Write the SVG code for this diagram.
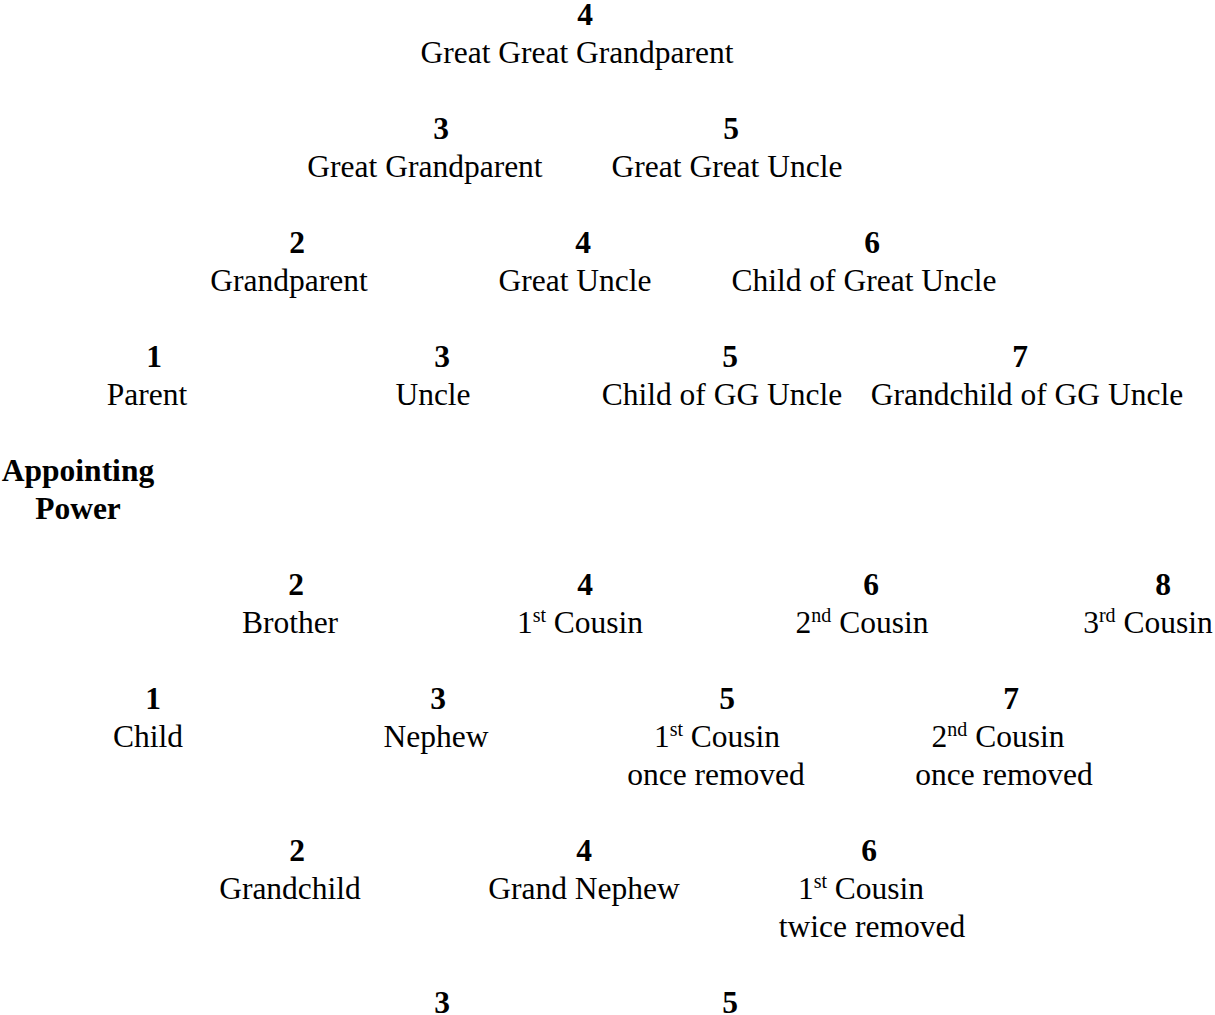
<svg xmlns="http://www.w3.org/2000/svg" width="1215" height="1015" viewBox="0 0 1215 1015">
<style>
text { font-family: "Liberation Serif", "Times New Roman", serif; font-size: 31.5px; fill: #000; text-anchor: middle; }
.n { font-weight: bold; }
.b { font-weight: bold; }
.sup { font-size: 20px; }
</style>
<rect width="1215" height="1015" fill="#fff"/>
<g id="connectors"/>
<g id="ggp"><text class="n" x="585" y="25">4</text><text x="577" y="63">Great Great Grandparent</text></g>
<g id="gp3"><text class="n" x="441" y="139">3</text><text x="425" y="177">Great Grandparent</text></g>
<g id="ggu"><text class="n" x="731" y="139">5</text><text x="727" y="177">Great Great Uncle</text></g>
<g id="gp"><text class="n" x="297" y="253">2</text><text x="289" y="291">Grandparent</text></g>
<g id="gu"><text class="n" x="583" y="253">4</text><text x="575" y="291">Great Uncle</text></g>
<g id="cgu"><text class="n" x="872" y="253">6</text><text x="864" y="291">Child of Great Uncle</text></g>
<g id="parent"><text class="n" x="154" y="367">1</text><text x="147" y="405">Parent</text></g>
<g id="uncle"><text class="n" x="442" y="367">3</text><text x="433" y="405">Uncle</text></g>
<g id="cggu"><text class="n" x="730" y="367">5</text><text x="722" y="405">Child of GG Uncle</text></g>
<g id="gcggu"><text class="n" x="1020" y="367">7</text><text x="1027" y="405">Grandchild of GG Uncle</text></g>
<g id="ap"><text class="b" x="78" y="481">Appointing</text><text class="b" x="78" y="519">Power</text></g>
<g id="brother"><text class="n" x="296" y="595">2</text><text x="290" y="633">Brother</text></g>
<g id="c1"><text class="n" x="585" y="595">4</text><text x="580" y="633">1<tspan class="sup" dy="-11">st</tspan><tspan dy="11"> Cousin</tspan></text></g>
<g id="c2"><text class="n" x="871" y="595">6</text><text x="862" y="633">2<tspan class="sup" dy="-11">nd</tspan><tspan dy="11"> Cousin</tspan></text></g>
<g id="c3"><text class="n" x="1163" y="595">8</text><text x="1148" y="633">3<tspan class="sup" dy="-11">rd</tspan><tspan dy="11"> Cousin</tspan></text></g>
<g id="child"><text class="n" x="153" y="709">1</text><text x="148" y="747">Child</text></g>
<g id="nephew"><text class="n" x="438" y="709">3</text><text x="436" y="747">Nephew</text></g>
<g id="c1r1"><text class="n" x="727" y="709">5</text><text x="717" y="747">1<tspan class="sup" dy="-11">st</tspan><tspan dy="11"> Cousin</tspan></text><text x="716" y="785">once removed</text></g>
<g id="c2r1"><text class="n" x="1011" y="709">7</text><text x="998" y="747">2<tspan class="sup" dy="-11">nd</tspan><tspan dy="11"> Cousin</tspan></text><text x="1004" y="785">once removed</text></g>
<g id="gchild"><text class="n" x="297" y="861">2</text><text x="290" y="899">Grandchild</text></g>
<g id="gnephew"><text class="n" x="584" y="861">4</text><text x="584" y="899">Grand Nephew</text></g>
<g id="c1r2"><text class="n" x="869" y="861">6</text><text x="861" y="899">1<tspan class="sup" dy="-11">st</tspan><tspan dy="11"> Cousin</tspan></text><text x="872" y="937">twice removed</text></g>
<g id="r3"><text class="n" x="442" y="1013">3</text></g>
<g id="r5"><text class="n" x="730" y="1013">5</text></g>
</svg>
